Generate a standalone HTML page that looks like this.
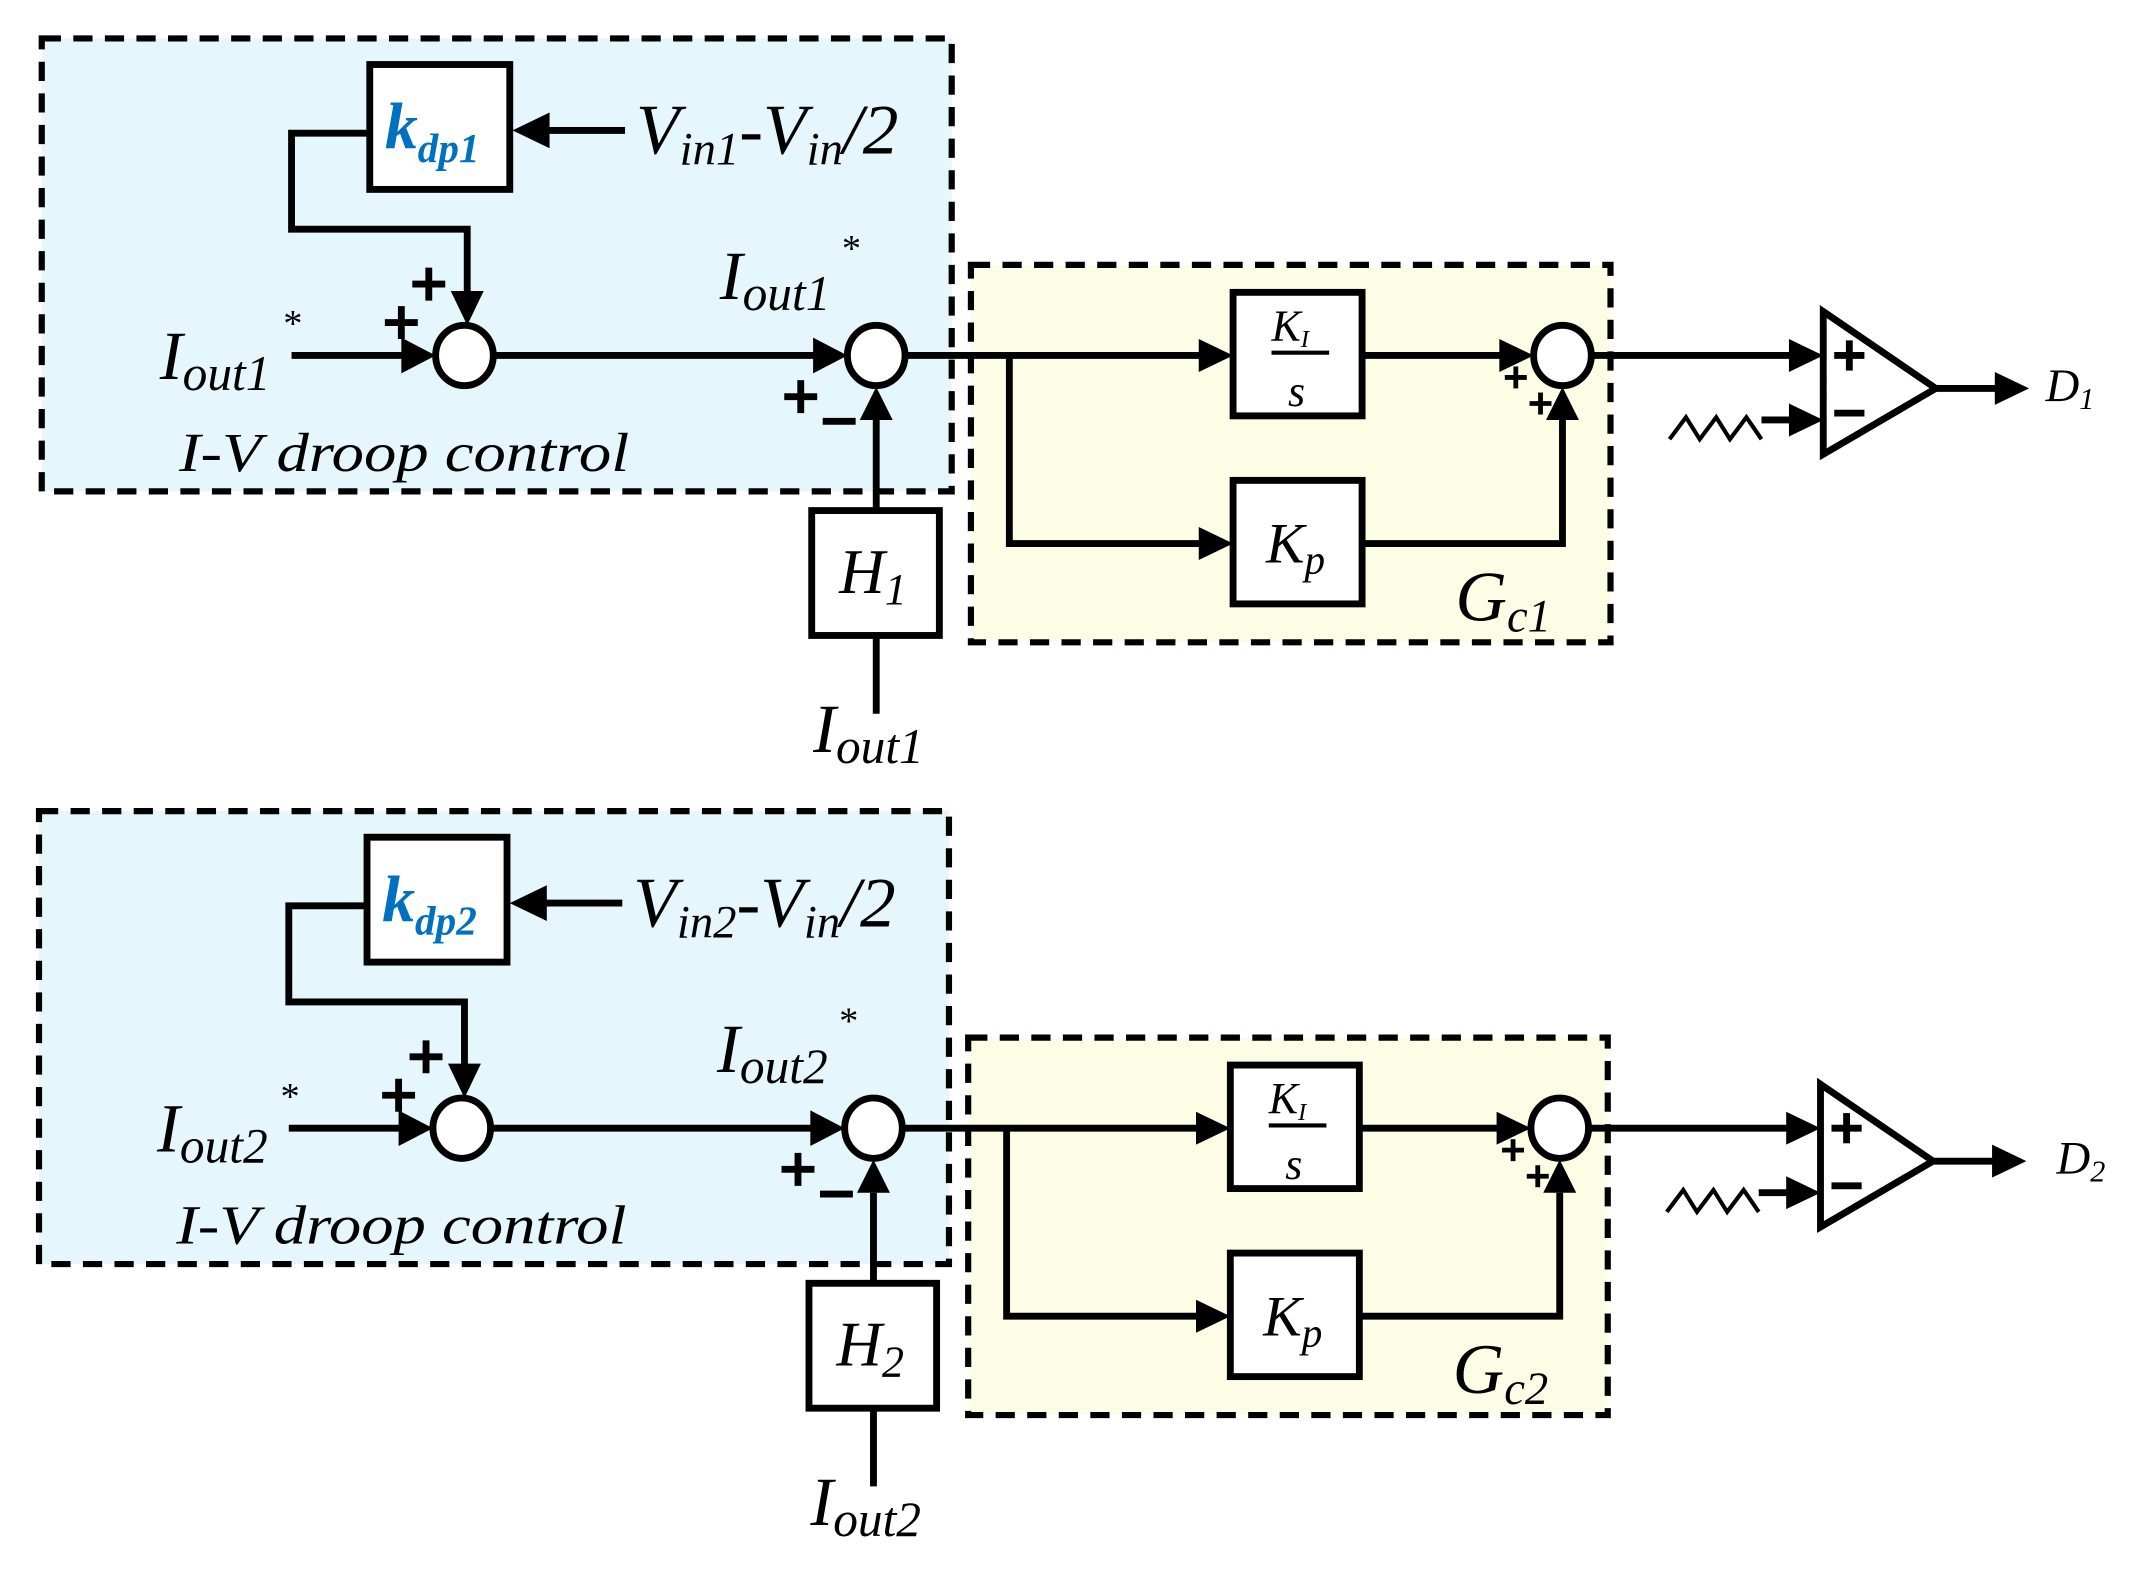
<!DOCTYPE html>
<html><head><meta charset="utf-8"><style>
html,body{margin:0;padding:0;background:#fff;}
svg{display:block;}
</style></head><body>
<svg width="2134" height="1577" viewBox="0 0 1554 1149" xmlns="http://www.w3.org/2000/svg">
<defs>
<g id="loop">
  <rect x="30" y="28" width="663" height="330" fill="#e5f6fd" stroke="#000" stroke-width="4.5" stroke-dasharray="14,9"/>
  <rect x="707" y="193" width="466" height="275" fill="#fdfde6" stroke="#000" stroke-width="4.5" stroke-dasharray="14,9"/>
  <g stroke="#000" stroke-width="5" fill="none" stroke-linejoin="miter">
    <rect x="269" y="47" width="102" height="91" fill="#fff"/>
    <line x1="455" y1="95" x2="395" y2="95"/>
    <polyline points="269,97 212,97 212,167 340,167 340,216"/>
    <line x1="212" y1="259" x2="296" y2="259"/>
    <line x1="360" y1="259" x2="594" y2="259"/>
    <rect x="591" y="372" width="93" height="91" fill="#fff"/>
    <line x1="638" y1="463" x2="638" y2="520"/>
    <line x1="638" y1="372" x2="638" y2="306"/>
    <line x1="660" y1="259" x2="876" y2="259"/>
    <polyline points="735,259 735,396 876,396"/>
    <rect x="898" y="213" width="94" height="90" fill="#fff"/>
    <rect x="898" y="350" width="94" height="90" fill="#fff"/>
    <line x1="992" y1="259" x2="1094" y2="259"/>
    <polyline points="992,396 1138,396 1138,306"/>
    <line x1="1160" y1="259" x2="1304" y2="259"/>
    <line x1="1283" y1="306" x2="1304" y2="306"/>
    <polygon points="1328,227 1328,331 1410,283" fill="#fff"/>
    <line x1="1410" y1="283" x2="1456" y2="283"/>
    <line x1="926" y1="257" x2="968" y2="257" stroke-width="3"/>
  </g>
  <g stroke="#000" stroke-width="5" fill="#fff">
    <ellipse cx="338" cy="259" rx="21" ry="22"/>
    <ellipse cx="638" cy="259" rx="21" ry="22"/>
    <ellipse cx="1138" cy="259" rx="21" ry="22"/>
  </g>
  <polyline points="1216,320 1228,304 1238,320 1250,304 1260,320 1272,304 1283,320" stroke="#000" stroke-width="3" fill="none"/>
  <g fill="#000">
    <polygon points="373,95 400,82 400,108"/>
    <polygon points="340,237 328,212 352,212"/>
    <polygon points="317,259 292,246 292,272"/>
    <polygon points="617,259 592,246 592,272"/>
    <polygon points="638,282 626,306 650,306"/>
    <polygon points="898,259 873,247 873,271"/>
    <polygon points="898,396 873,384 873,408"/>
    <polygon points="1117,259 1092,247 1092,271"/>
    <polygon points="1138,282 1126,306 1150,306"/>
    <polygon points="1328,259 1303,247 1303,271"/>
    <polygon points="1328,306 1303,294 1303,318"/>
    <polygon points="1478,283 1453,271 1453,295"/>
  </g>
  <g stroke="#000" stroke-width="5">
    <line x1="280" y1="235" x2="304" y2="235"/><line x1="292" y1="223" x2="292" y2="247"/>
    <line x1="300" y1="207" x2="324" y2="207"/><line x1="312" y1="195" x2="312" y2="219"/>
    <line x1="571" y1="289" x2="595" y2="289"/><line x1="583" y1="277" x2="583" y2="301"/>
    <line x1="599" y1="307" x2="623" y2="307"/>
    <line x1="1336" y1="259" x2="1358" y2="259"/><line x1="1347" y1="248" x2="1347" y2="270"/>
    <line x1="1336" y1="301" x2="1358" y2="301"/>
  </g>
  <g stroke="#000" stroke-width="3.5">
    <line x1="1096" y1="275" x2="1112" y2="275"/><line x1="1104" y1="267" x2="1104" y2="283"/>
    <line x1="1114" y1="294" x2="1130" y2="294"/><line x1="1122" y1="286" x2="1122" y2="302"/>
  </g>
  <g font-family="'Liberation Serif','Times New Roman',serif" font-style="italic" fill="#000">
    <text x="206" y="245" font-size="28" font-style="normal">*</text>
    <text x="613" y="190" font-size="28" font-style="normal">*</text>
    <text x="130" y="343" font-size="40" textLength="328" lengthAdjust="spacingAndGlyphs">I-V droop control</text>
    <text x="922" y="410" font-size="42">K<tspan font-size="30" dy="8">p</tspan></text>
    <text x="926" y="248" font-size="32">K<tspan font-size="18" dy="5">I</tspan></text>
    <text x="938" y="296" font-size="32">s</text>
  </g>
</g>
</defs>

<use href="#loop"/>
<use href="#loop" transform="translate(-2,563)"/>

<g font-family="'Liberation Serif','Times New Roman',serif" font-style="italic" fill="#000">
  <text x="280" y="108" font-size="48" font-weight="bold" fill="#0070c0">k<tspan font-size="30" dy="10">dp1</tspan></text>
  <text x="463" y="112" font-size="52">V<tspan font-size="34" dy="8">in1</tspan><tspan dy="-8">-V</tspan><tspan font-size="34" dy="8">in</tspan><tspan dy="-8">/2</tspan></text>
  <text x="116" y="276" font-size="50">I<tspan font-size="36" dy="8">out1</tspan></text>
  <text x="524" y="218" font-size="50">I<tspan font-size="36" dy="8">out1</tspan></text>
  <text x="592" y="548" font-size="50">I<tspan font-size="36" dy="8">out1</tspan></text>
  <text x="611" y="432" font-size="46">H<tspan font-size="32" dy="8">1</tspan></text>
  <text x="1060" y="452" font-size="52">G<tspan font-size="34" dy="8">c1</tspan></text>
  <text x="1490" y="292" font-size="34">D<tspan font-size="22" dy="6">1</tspan></text>
</g>
<g transform="translate(-2,563)" font-family="'Liberation Serif','Times New Roman',serif" font-style="italic" fill="#000">
  <text x="280" y="108" font-size="48" font-weight="bold" fill="#0070c0">k<tspan font-size="30" dy="10">dp2</tspan></text>
  <text x="463" y="112" font-size="52">V<tspan font-size="34" dy="8">in2</tspan><tspan dy="-8">-V</tspan><tspan font-size="34" dy="8">in</tspan><tspan dy="-8">/2</tspan></text>
  <text x="116" y="276" font-size="50">I<tspan font-size="36" dy="8">out2</tspan></text>
  <text x="524" y="218" font-size="50">I<tspan font-size="36" dy="8">out2</tspan></text>
  <text x="592" y="548" font-size="50">I<tspan font-size="36" dy="8">out2</tspan></text>
  <text x="611" y="432" font-size="46">H<tspan font-size="32" dy="8">2</tspan></text>
  <text x="1060" y="452" font-size="52">G<tspan font-size="34" dy="8">c2</tspan></text>
  <text x="1500" y="292" font-size="34">D<tspan font-size="22" dy="6">2</tspan></text>
</g>
</svg>
</body></html>
